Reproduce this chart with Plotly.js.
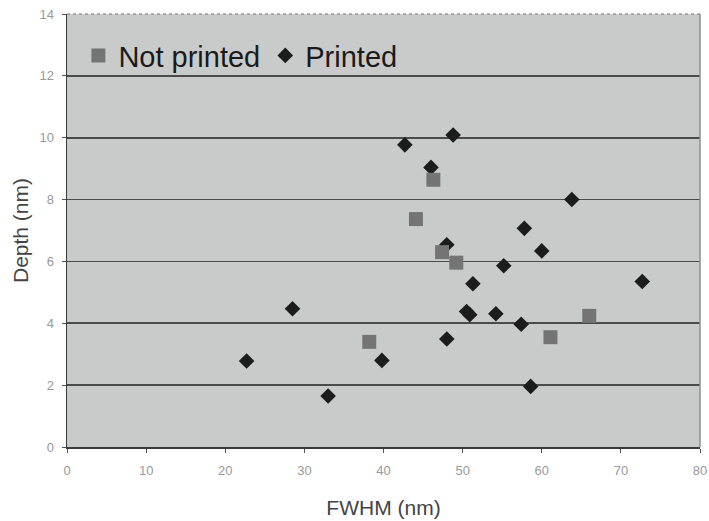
<!DOCTYPE html>
<html>
<head>
<meta charset="utf-8">
<script src="https://cdn.plot.ly/plotly-3.0.1.min.js"></script>
<style>html,body{margin:0;padding:0;background:#fff;}#chart{width:709px;height:521px;}</style>
</head>
<body>
<div id="chart"></div>
<script>
var printedX = [22.7, 28.5, 33.0, 39.8, 42.7, 46.0, 48.8, 48.0, 48.0, 50.5, 50.9, 51.3, 54.2, 55.2, 57.4, 57.8, 58.6, 60.0, 63.8, 72.7];
var printedY = [2.78, 4.47, 1.65, 2.80, 9.77, 9.04, 10.09, 6.54, 3.49, 4.38, 4.28, 5.28, 4.31, 5.86, 3.97, 7.07, 1.96, 6.34, 8.00, 5.35];
var notPrintedX = [38.2, 44.1, 46.3, 47.4, 49.2, 61.1, 66.0];
var notPrintedY = [3.40, 7.37, 8.64, 6.30, 5.96, 3.55, 4.24];
var xTicks = [0, 10, 20, 30, 40, 50, 60, 70, 80];
var yTicks = [0, 2, 4, 6, 8, 10, 12, 14];

var traces = [
  {x: printedX, y: printedY, name: 'Printed', mode: 'markers', type: 'scatter',
   marker: {symbol: 'diamond', size: 12, color: '#1c1c1c'}},
  {x: notPrintedX, y: notPrintedY, name: 'Not printed', mode: 'markers', type: 'scatter',
   marker: {symbol: 'square', size: 14, color: '#747474'}}
];

var layout = {
  width: 709, height: 521,
  margin: {l: 67, r: 9, t: 14, b: 74},
  paper_bgcolor: '#ffffff',
  plot_bgcolor: '#c9cbcb',
  font: {family: 'Liberation Sans, Arial, sans-serif', color: '#333'},
  showlegend: true,
  legend: {orientation: 'h', traceorder: 'reversed', x: 0.018, y: 0.904, xanchor: 'left', yanchor: 'middle',
           bgcolor: 'rgba(0,0,0,0)', font: {size: 29, color: '#1a1a1a'}, itemwidth: 30},
  xaxis: {
    range: [0, 80], tickvals: xTicks, ticktext: xTicks.map(String),
    showgrid: false, zeroline: false,
    showline: true, linecolor: '#3a3a3a', linewidth: 1.5, mirror: false,
    ticks: 'outside', ticklen: 4, tickcolor: '#555', ticklabelstandoff: 7,
    tickfont: {size: 13, color: '#999'},
    title: {text: 'FWHM (nm)', font: {size: 21, color: '#444'}, standoff: 23}
  },
  yaxis: {
    range: [0, 14], tickvals: yTicks, ticktext: yTicks.map(String),
    showgrid: true, gridcolor: '#4a4a4a', gridwidth: 1.6, zeroline: false,
    showline: true, linecolor: '#3a3a3a', linewidth: 1.5,
    ticks: 'outside', ticklen: 4, tickcolor: '#555', ticklabelstandoff: 5,
    tickfont: {size: 13, color: '#999'},
    title: {text: 'Depth (nm)', font: {size: 21, color: '#444'}, standoff: 5}
  },
  shapes: [
    {type: 'line', xref: 'paper', yref: 'paper', x0: 1, x1: 1, y0: 0, y1: 1, line: {color: '#8a9090', width: 1.5}},
    {type: 'line', xref: 'paper', yref: 'paper', x0: 0, x1: 1, y0: 1, y1: 1, line: {color: '#777', width: 1, dash: 'dot'}}
  ]
};

Plotly.newPlot('chart', traces, layout, {displayModeBar: false, staticPlot: true});
</script>
</body>
</html>
